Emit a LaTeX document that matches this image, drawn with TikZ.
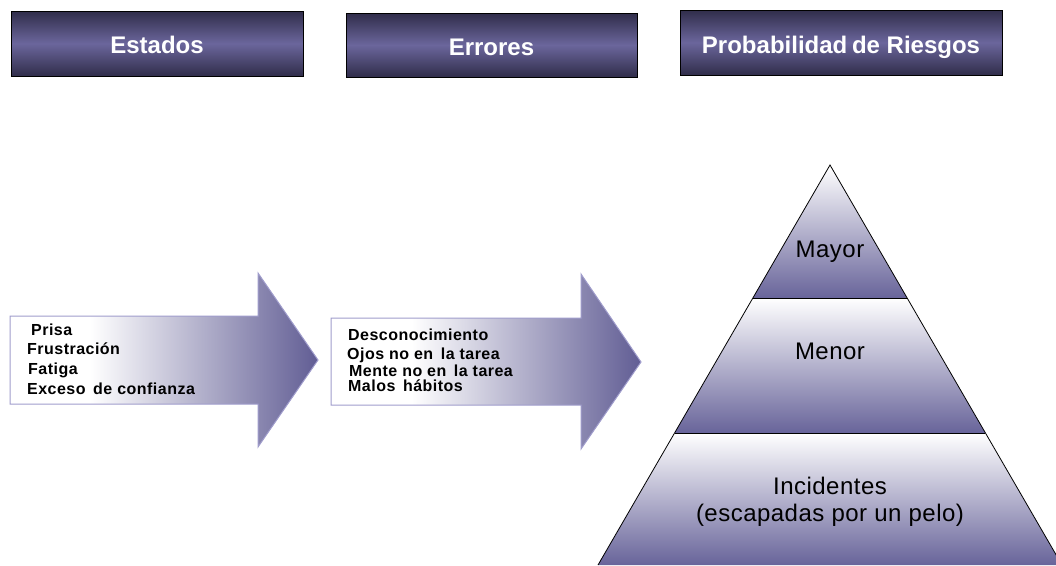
\documentclass[tikz,border=0pt]{standalone}
\usepackage{fontspec}
\setmainfont{Liberation Sans}
\newfontfamily\spacedfont[LetterSpace=3]{Liberation Sans}
\newfontfamily\spacedfontb[LetterSpace=2]{Liberation Sans}
\usetikzlibrary{calc}
\definecolor{hdark}{HTML}{302D4A}
\definecolor{hmid}{HTML}{6B669C}
\definecolor{adark}{HTML}{615D94}
\definecolor{aline}{HTML}{A09DCC}
\definecolor{pdark}{HTML}{68649A}
\pgfdeclarehorizontalshading{arrowshade}{100bp}{color(0bp)=(white); color(38bp)=(white); color(75bp)=(adark); color(100bp)=(adark)}
\tikzset{
  header/.style={draw=black, line width=0.8pt, top color=hdark, bottom color=hdark, middle color=hmid, inner sep=0pt},
  headtext/.style={text=white, font=\bfseries\fontsize{24}{28}\selectfont, anchor=base, inner sep=0pt},
  bigarrow/.style={draw=aline, line width=1pt, shading=arrowshade},
  itemtext/.style={anchor=base west, inner sep=0pt, font=\spacedfont\bfseries\fontsize{16}{19}\selectfont},
  band/.style={top color=white, bottom color=pdark},
  pyrtext/.style={anchor=base, inner sep=0pt, font=\spacedfontb\fontsize{24}{28}\selectfont},
}
\begin{document}
\begin{tikzpicture}[x=1pt,y=-1pt]
\useasboundingbox (0,0) rectangle (1056,565);
% headers
\node[header, minimum width=292pt, minimum height=65pt] (h1) at (157,43.5) {};
\node[header, minimum width=291pt, minimum height=64pt] (h2) at (491.5,45) {};
\node[header, minimum width=322pt, minimum height=65pt] (h3) at (841,42.5) {};
\node[headtext] (t1) at (157,53) {Estados};
\node[headtext] (t2) at (491.5,55) {Errores};
\node[headtext] (t3) at (841,53) {Probabilidad\hspace{-2pt} de Riesgos};
% arrows
\path[bigarrow] (10,316) -- (258,316) -- (258,273) -- (318,360) -- (258,447) -- (258,404) -- (10,404) -- cycle;
\path[bigarrow] (331,318) -- (581,318) -- (581,274) -- (641,362) -- (581,449) -- (581,405) -- (331,405) -- cycle;
\node[itemtext] (a1) at (31,335) {Prisa};
\node[itemtext] (a2) at (27,354) {Frustración};
\node[itemtext] (a3) at (28,374) {Fatiga};
\node[itemtext] (a4) at (27,394) {Exceso\, de confianza};
\node[itemtext] (b1) at (348,340) {Desconocimiento};
\node[itemtext] (b2) at (347,359) {Ojos no en\, la tarea};
\node[itemtext] (b3) at (349,376) {Mente no en\, la tarea};
\node[itemtext] (b4) at (348,391) {Malos\, hábitos};
% pyramid
\coordinate (apex) at (830,165);
\coordinate (bl) at (598,565);
\coordinate (br) at (1062,565);
\coordinate (l1) at ($(apex)!0.3325!(bl)$);
\coordinate (r1) at ($(apex)!0.3325!(br)$);
\coordinate (l2) at ($(apex)!0.67!(bl)$);
\coordinate (r2) at ($(apex)!0.67!(br)$);
\begin{scope}
\clip (0,0) rectangle (1056,565);
\shade[band] (apex) -- (r1) -- (l1) -- cycle;
\shade[band] (l1) -- (r1) -- (r2) -- (l2) -- cycle;
\shade[band] (l2) -- (r2) -- (br) -- (bl) -- cycle;
\draw[black, line width=0.8pt] (bl) -- (apex) -- (br);
\draw[black, line width=1pt] (l1) -- (r1);
\draw[black, line width=1pt] (l2) -- (r2);
\end{scope}
\node[pyrtext] (p1) at (830,257) {Mayor};
\node[pyrtext] (p2) at (830,359) {Menor};
\node[pyrtext] (p3) at (830,494) {Incidentes};
\node[pyrtext] (p4) at (830,521) {(escapadas por un pelo)};
\end{tikzpicture}
\end{document}
